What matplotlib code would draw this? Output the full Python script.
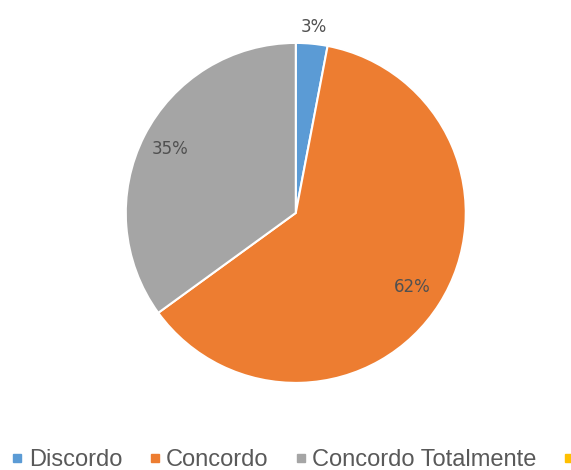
import matplotlib
matplotlib.use("Agg")
import numpy as np
from matplotlib import pyplot as plt
from matplotlib.lines import Line2D

categorias = ["Discordo", "Concordo", "Concordo Totalmente", "Discordo Totalmente"]
valores = [3, 62, 35, 0]
cores = ["#5B9BD5", "#ED7D31", "#A5A5A5", "#FFC000"]

fig = plt.figure(figsize=(5.71, 4.70), dpi=100)
ax = fig.add_axes([0.518 - 0.2977, 0.547 - 0.3617, 0.5954, 0.7234])

wedges, _ = ax.pie(valores[:3], colors=cores[:3], startangle=90, counterclock=False,
                   wedgeprops={"edgecolor": "white", "linewidth": 1.5})
ax.set_xlim(-1, 1)
ax.set_ylim(-1, 1)
ax.set_aspect("equal")

# rótulos de porcentagem
dist = [1.1, 0.81, 0.83]
for w, v, d in zip(wedges, valores[:3], dist):
    meio = np.deg2rad((w.theta1 + w.theta2) / 2)
    ax.text(d * np.cos(meio), d * np.sin(meio), f"{v}%", ha="center", va="center",
            fontsize=12, color="#505050", family="DejaVu Sans")

handles = [Line2D([], [], marker="s", linestyle="none", markersize=6,
                  markerfacecolor=c, markeredgecolor=c) for c in cores]
fig.legend(handles, categorias, ncol=4, loc="center left", bbox_to_anchor=(0.018, 0.021),
           frameon=False, prop={"family": "Liberation Sans", "size": 17},
           labelcolor="#595959", handlelength=0.6, handletextpad=0.19,
           columnspacing=1.065, borderaxespad=0, borderpad=0)

fig.savefig("out.png", dpi=100)
